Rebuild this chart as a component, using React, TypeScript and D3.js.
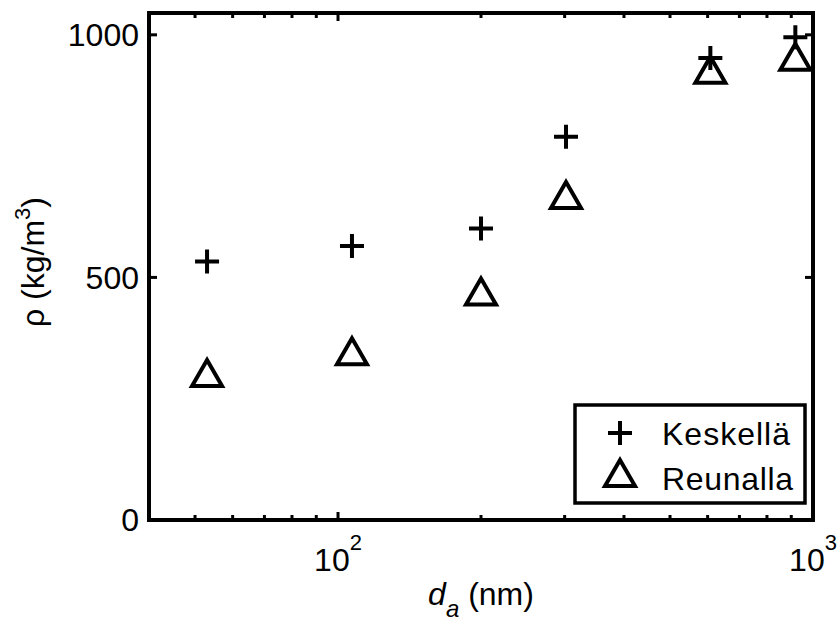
import React from "react";
import * as d3 from "d3";

// Particle density versus aerodynamic diameter, two sampling positions
const diameters = [53, 107, 200, 302, 608, 918];
const keskella = [533, 565, 601, 790, 952, 995];
const reunalla = [303, 348, 471, 670, 928, 955];
const yTicks = [0, 500, 1000];
const xMajorTicks = [100, 1000];
const xMinorTicks = [50, 60, 70, 80, 90, 200, 300, 400, 500, 600, 700, 800, 900];
const legendLabels = ["Keskellä", "Reunalla"];

const W = 837;
const H = 623;
const left = 149;
const right = 813;
const top = 13;
const bottom = 520;

const FONT = "'Liberation Sans', Arial, Helvetica, sans-serif";
const FS = 32;

function Plus({ cx, cy, r = 12 }: { cx: number; cy: number; r?: number }) {
  return (
    <path
      d={`M${cx - r},${cy}H${cx + r}M${cx},${cy - r}V${cy + r}`}
      stroke="#000"
      strokeWidth={4}
      fill="none"
    />
  );
}

function Triangle({ cx, cy }: { cx: number; cy: number }) {
  const hw = 15;
  const hh = 13;
  return (
    <path
      d={`M${cx},${cy - hh}L${cx + hw},${cy + hh}L${cx - hw},${cy + hh}Z`}
      stroke="#000"
      strokeWidth={4}
      strokeLinejoin="miter"
      fill="none"
    />
  );
}

export default function App() {
  const x = d3.scaleLog().domain([40, 1000]).range([left, right]);
  const y = d3.scaleLinear().domain([0, 1045]).range([bottom, top]);

  const majorLen = 8;
  const minorLen = 5;

  return (
    <svg
      width={W}
      height={H}
      style={{ position: "absolute", left: 0, top: 0, background: "#fff" }}
      fontFamily={FONT}
    >
      <rect x={0} y={0} width={W} height={H} fill="#fff" />

      {/* x ticks, bottom and top, pointing inward */}
      <g stroke="#000" strokeWidth={3}>
        {xMajorTicks.map((t) => (
          <g key={`M${t}`}>
            <line x1={x(t)} x2={x(t)} y1={bottom} y2={bottom - majorLen} />
            <line x1={x(t)} x2={x(t)} y1={top} y2={top + majorLen} />
          </g>
        ))}
        {xMinorTicks.map((t) => (
          <g key={`m${t}`}>
            <line x1={x(t)} x2={x(t)} y1={bottom} y2={bottom - minorLen} />
            <line x1={x(t)} x2={x(t)} y1={top} y2={top + minorLen} />
          </g>
        ))}
        {yTicks.map((t) => (
          <g key={`y${t}`}>
            <line x1={left} x2={left + majorLen} y1={y(t)} y2={y(t)} />
            <line x1={right} x2={right - majorLen} y1={y(t)} y2={y(t)} />
          </g>
        ))}
      </g>

      {/* data markers */}
      {diameters.map((d, i) => (
        <Plus key={`k${i}`} cx={x(d)} cy={y(keskella[i])} />
      ))}
      {diameters.map((d, i) => (
        <Triangle key={`r${i}`} cx={x(d)} cy={y(reunalla[i])} />
      ))}

      {/* axes box */}
      <rect
        x={left}
        y={top}
        width={right - left}
        height={bottom - top}
        fill="none"
        stroke="#000"
        strokeWidth={4}
      />

      {/* y tick labels */}
      {yTicks.map((t) => (
        <text
          key={`yl${t}`}
          x={139}
          y={y(t)}
          dy="0.35em"
          textAnchor="end"
          fontSize={FS}
          fill="#000"
        >
          {t}
        </text>
      ))}

      {/* x tick labels as powers of ten */}
      {xMajorTicks.map((t) => (
        <text
          key={`xl${t}`}
          x={x(t)}
          y={571}
          textAnchor="middle"
          fontSize={FS}
          fill="#000"
        >
          10
          <tspan fontSize={22} dy={-21}>
            {Math.round(Math.log10(t))}
          </tspan>
        </text>
      ))}

      {/* x axis label */}
      <text x={481} y={605} textAnchor="middle" fontSize={FS} fill="#000">
        <tspan fontStyle="italic">d</tspan>
        <tspan fontStyle="italic" fontSize={24} dy={12}>
          a
        </tspan>
        <tspan dy={-12}> (nm)</tspan>
      </text>

      {/* y axis label */}
      <text
        transform={`translate(44,262) rotate(-90)`}
        textAnchor="middle"
        fontSize={FS}
        fill="#000"
      >
        ρ (kg/m
        <tspan fontSize={22} dy={-14}>
          3
        </tspan>
        <tspan dy={14}>)</tspan>
      </text>

      {/* legend */}
      <rect
        x={575}
        y={405}
        width={230}
        height={98}
        fill="#fff"
        stroke="#000"
        strokeWidth={3.5}
      />
      <Plus cx={620} cy={433} />
      <Triangle cx={620} cy={473} />
      <text x={662} y={445} fontSize={FS} fill="#000" textLength={128} lengthAdjust="spacing">
        {legendLabels[0]}
      </text>
      <text x={662} y={490} fontSize={FS} fill="#000" textLength={131} lengthAdjust="spacing">
        {legendLabels[1]}
      </text>
    </svg>
  );
}
